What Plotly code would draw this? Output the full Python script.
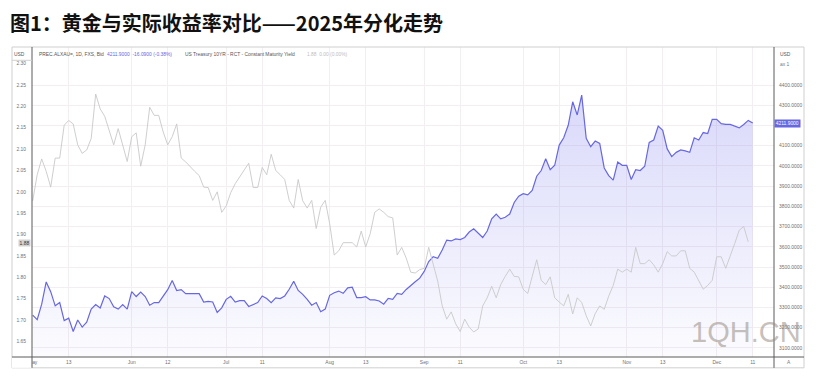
import pandas as pd
import plotly.graph_objects as go

# ---------------- data ----------------
gold_values = [
    3262, 3240, 3316, 3426, 3378, 3308, 3324, 3235, 3247, 3181,
    3238, 3203, 3227, 3292, 3314, 3297, 3357, 3344, 3303, 3292,
    3314, 3292, 3378, 3354, 3376, 3354, 3311, 3324, 3324, 3354,
    3388, 3433, 3384, 3388, 3368, 3368, 3368, 3368, 3327, 3330,
    3327, 3275, 3298, 3340, 3355, 3327, 3334, 3334, 3305, 3316,
    3324, 3357, 3344, 3324, 3347, 3344, 3357, 3390, 3430, 3384,
    3365, 3340, 3311, 3324, 3279, 3292, 3360, 3373, 3381, 3370,
    3397, 3400, 3349, 3349, 3353, 3337, 3337, 3332, 3316, 3345,
    3340, 3370, 3365, 3389, 3410, 3427, 3445, 3478, 3527, 3551,
    3543, 3584, 3633, 3629, 3639, 3636, 3646, 3673, 3689, 3665,
    3646, 3678, 3738, 3762, 3738, 3746, 3762, 3819, 3850, 3863,
    3857, 3879, 3949, 3977, 4035, 3981, 4003, 4103, 4139, 4201,
    4317, 4252, 4350, 4136, 4095, 4123, 4111, 3990, 3952, 3930,
    4019, 4003, 4003, 3933, 3981, 3977, 3998, 4116, 4128, 4197,
    4176, 4084, 4046, 4067, 4079, 4074, 4067, 4139, 4128, 4165,
    4160, 4230, 4230, 4209, 4205, 4205, 4196, 4188, 4205, 4225,
    4211.9,
]

yield_values = [
    1.979, 2.040, 2.077, 2.048, 2.011, 2.079, 2.079, 2.156, 2.167, 2.159,
    2.110, 2.090, 2.098, 2.125, 2.229, 2.194, 2.177, 2.144, 2.110, 2.148,
    2.110, 2.071, 2.129, 2.138, 2.060, 2.110, 2.198, 2.179, 2.179, 2.140,
    2.110, 2.129, 2.159, 2.079, 2.070, 2.058, 2.048, 2.038, 2.011, 2.010,
    1.980, 2.000, 1.952, 1.967, 1.998, 2.019, 2.034, 2.050, 2.067, 2.010,
    2.010, 2.057, 2.040, 2.088, 2.050, 2.040, 2.029, 1.980, 1.962, 2.029,
    1.979, 1.962, 1.980, 1.914, 1.964, 1.980, 1.925, 1.852, 1.862, 1.881,
    1.881, 1.881, 1.871, 1.908, 1.871, 1.902, 1.952, 1.960, 1.952, 1.942,
    1.939, 1.852, 1.870, 1.845, 1.812, 1.810, 1.818, 1.821, 1.870, 1.833,
    1.791, 1.733, 1.702, 1.719, 1.691, 1.673, 1.702, 1.683, 1.672, 1.679,
    1.733, 1.752, 1.779, 1.752, 1.783, 1.802, 1.819, 1.802, 1.801, 1.772,
    1.762, 1.802, 1.841, 1.793, 1.783, 1.801, 1.752, 1.742, 1.733, 1.760,
    1.714, 1.752, 1.741, 1.710, 1.686, 1.715, 1.733, 1.725, 1.756, 1.781,
    1.819, 1.812, 1.819, 1.812, 1.870, 1.832, 1.832, 1.841, 1.829, 1.812,
    1.832, 1.860, 1.850, 1.850, 1.862, 1.862, 1.821, 1.812, 1.791, 1.772,
    1.781, 1.793, 1.848, 1.848, 1.821, 1.848, 1.879, 1.910, 1.919, 1.883,
]

trading_days = pd.bdate_range("2025-05-01", "2025-12-11")
gold_dates = trading_days[: len(gold_values)]
yield_dates = trading_days[: len(yield_values)]

x_tick_dates = ["2025-05-01", "2025-05-13", "2025-06-02", "2025-06-12",
                "2025-07-01", "2025-07-11", "2025-08-01", "2025-08-13",
                "2025-09-01", "2025-09-11", "2025-10-01", "2025-10-13",
                "2025-11-03", "2025-11-13", "2025-12-01", "2025-12-11"]
x_tick_text = ["May", "13", "Jun", "12", "Jul", "11", "Aug", "13",
               "Sep", "11", "Oct", "13", "Nov", "13", "Dec", "11"]

gold_ticks = list(range(3100, 4401, 100))
# the 4200 label sits under the last-price tag in the reference
gold_tick_text = ["" if v == 4200 else f"{v:.4f}" for v in gold_ticks]
yield_ticks = [1.65, 1.70, 1.75, 1.80, 1.85, 1.90, 1.95, 2.00,
               2.05, 2.10, 2.15, 2.20, 2.25, 2.30]

title_text = "图1：黄金与实际收益率对比——2025年分化走势"
gold_name = "PREC.ALXAU=, 1D, FXS, Bid"
gold_quote = "4211.9000  -16.0900 (-0.38%)"
yield_name = "US Treasury 10YR - RCT - Constant Maturity Yield"
yield_quote = "1.88  0.00 (0.00%)"
last_gold = gold_values[-1]
last_yield = 1.88

# ---------------- styling ----------------
W, H = 816, 377
ML, MR, MT, MB = 32, 42, 47, 15
PW, PH = W - ML - MR, H - MT - MB


def px(xp):
    return (xp - ML) / PW


def py(yp):
    return (H - MB - yp) / PH


GOLD = "#6767e2"
GRAY_LINE = "#c8c8c8"
FONT = "Liberation Sans, Arial, sans-serif"
TICK_FONT = dict(family=FONT, size=4.9, color="#707070")

fig = go.Figure()

fig.add_trace(go.Scatter(
    x=gold_dates, y=gold_values, mode="lines", yaxis="y",
    line=dict(color=GOLD, width=1.2),
    fill="tozeroy",
    fillgradient=dict(type="vertical", start=3055, stop=4400,
                      colorscale=[[0, "rgba(115,115,238,0.02)"],
                                  [1, "rgba(115,115,238,0.28)"]]),
    hoverinfo="skip",
))
fig.add_trace(go.Scatter(
    x=yield_dates, y=yield_values, mode="lines", yaxis="y2",
    line=dict(color=GRAY_LINE, width=0.9),
    hoverinfo="skip",
))

fig.update_layout(
    width=W, height=H,
    margin=dict(l=ML, r=MR, t=MT, b=MB, pad=0),
    paper_bgcolor="white", plot_bgcolor="white",
    showlegend=False,
    xaxis=dict(
        type="date",
        rangebreaks=[dict(bounds=["sat", "mon"])],
        range=["2025-04-30 20:15", "2025-12-17 17:30"],
        tickvals=x_tick_dates, ticktext=x_tick_text,
        tickfont=TICK_FONT, ticks="", ticklabelstandoff=1,
        showgrid=True, gridcolor="#f3eef1", gridwidth=1,
        showline=False, zeroline=False,
    ),
    yaxis=dict(
        side="right", range=[3055, 4588],
        tickvals=gold_ticks, ticktext=gold_tick_text,
        tickfont=TICK_FONT, ticks="", ticklabelstandoff=4,
        showgrid=True, gridcolor="#f3eef1", gridwidth=1,
        showline=False, zeroline=False,
    ),
    yaxis2=dict(
        side="left", overlaying="y", range=[1.6134, 2.339],
        tickvals=yield_ticks, tickformat=".2f",
        tickfont=TICK_FONT, ticks="", ticklabelstandoff=5,
        showgrid=False, showline=False, zeroline=False,
    ),
)

x_left, x_right = px(12), px(804)
y_bottom = py(373)
shapes = [
    dict(type="rect", xref="paper", yref="paper", x0=x_left, x1=x_right,
         y0=y_bottom, y1=1, line=dict(color="#cfcfcf", width=1), layer="above"),
    dict(type="rect", xref="paper", yref="paper", x0=x_left, x1=0,
         y0=y_bottom, y1=py(362), fillcolor="white", line=dict(width=0), layer="above"),
    dict(type="line", xref="paper", yref="paper", x0=0, x1=0, y0=y_bottom, y1=1,
         line=dict(color="#5a5a5a", width=1), layer="above"),
    dict(type="line", xref="paper", yref="paper", x0=1, x1=1, y0=y_bottom, y1=1,
         line=dict(color="#5a5a5a", width=1), layer="above"),
    dict(type="line", xref="paper", yref="paper", x0=x_left, x1=x_right, y0=0, y1=0,
         line=dict(color="#5a5a5a", width=1), layer="above"),
    dict(type="line", xref="paper", yref="paper", x0=x_left, x1=0, y0=py(60.5), y1=py(60.5),
         line=dict(color="#cfcfcf", width=1), layer="above"),
]
fig.update_layout(shapes=shapes)

small = dict(family=FONT, size=4.9)
ann = [
    dict(text=title_text, xref="paper", yref="paper", x=px(8), y=py(22.5),
         xanchor="left", yanchor="middle", showarrow=False,
         font=dict(family="Noto Sans CJK SC", size=20, color="#111111", weight="bold")),
    dict(text=gold_name, xref="paper", yref="paper", x=px(36.5), y=py(55),
         xanchor="left", yanchor="middle", showarrow=False, font=dict(small, color="#555555")),
    dict(text=gold_quote, xref="paper", yref="paper", x=px(105), y=py(55),
         xanchor="left", yanchor="middle", showarrow=False, font=dict(small, color=GOLD)),
    dict(text=yield_name, xref="paper", yref="paper", x=px(183), y=py(55),
         xanchor="left", yanchor="middle", showarrow=False, font=dict(small, color="#555555")),
    dict(text=yield_quote, xref="paper", yref="paper", x=px(305), y=py(55),
         xanchor="left", yanchor="middle", showarrow=False, font=dict(small, color="#bdbdbd")),
    dict(text="USD", xref="paper", yref="paper", x=px(19), y=py(55),
         xanchor="center", yanchor="middle", showarrow=False, font=dict(small, color="#555555")),
    dict(text="USD", xref="paper", yref="paper", x=px(778), y=py(54.5),
         xanchor="left", yanchor="middle", showarrow=False, font=dict(small, color="#555555")),
    dict(text="ax 1", xref="paper", yref="paper", x=px(778), y=py(65),
         xanchor="left", yanchor="middle", showarrow=False, font=dict(small, color="#777777")),
    dict(text="A", xref="paper", yref="paper", x=px(789), y=py(368),
         xanchor="center", yanchor="middle", showarrow=False, font=dict(small, color="#777777")),
    dict(text=f"{last_yield:.2f}", xref="paper", yref="y2", x=px(30.5), y=last_yield,
         xanchor="right", yanchor="middle", showarrow=False, bgcolor="#d2d2d2",
         borderpad=0.6, font=dict(small, color="#333333")),
    dict(text=f"{last_gold:.4f}", xref="paper", yref="y", x=1.0, y=last_gold,
         xanchor="left", yanchor="middle", showarrow=False, bgcolor=GOLD,
         borderpad=0.8, font=dict(small, color="white")),
    dict(text="1QH.CN", xref="paper", yref="paper", x=px(746), y=py(337),
         xanchor="center", yanchor="middle", showarrow=False,
         font=dict(family=FONT, size=29, color="rgba(150,138,128,0.55)")),
]
fig.update_layout(annotations=ann)

fig.write_html("out.html", config={"displayModeBar": False},
               post_script="document.body.style.margin='0';")
